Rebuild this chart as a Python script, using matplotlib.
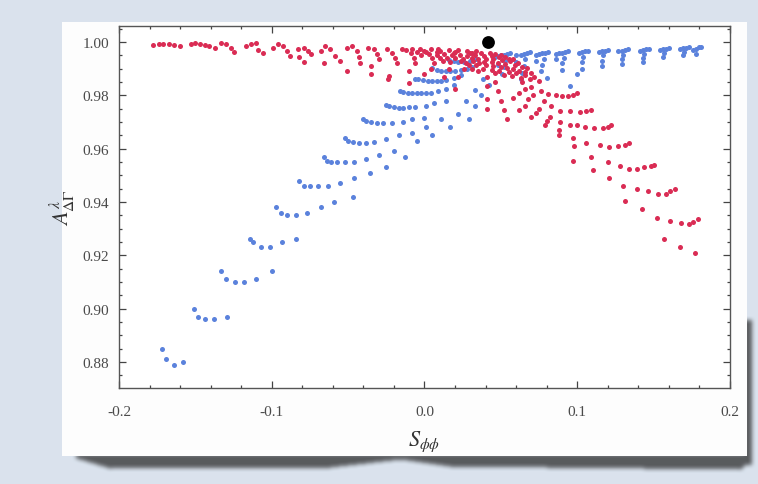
import numpy as np
import matplotlib.pyplot as plt
from matplotlib.ticker import MultipleLocator, FormatStrFormatter

plt.rcParams['mathtext.fontset'] = 'stix'

# blue scan: lower-left fan, rows from the bottom up
blue_fan = [
    (-0.172, 0.885), (-0.169, 0.881), (-0.164, 0.879), (-0.158, 0.880),
    (-0.151, 0.900), (-0.148, 0.897), (-0.144, 0.896), (-0.138, 0.896), (-0.129, 0.897),
    (-0.133, 0.914), (-0.130, 0.911), (-0.124, 0.910), (-0.118, 0.910), (-0.110, 0.911), (-0.100, 0.914),
    (-0.114, 0.926), (-0.112, 0.925), (-0.107, 0.923), (-0.101, 0.923), (-0.093, 0.925), (-0.084, 0.926),
    (-0.097, 0.938), (-0.094, 0.936), (-0.090, 0.935), (-0.084, 0.935), (-0.077, 0.936), (-0.068, 0.938),
    (-0.059, 0.940), (-0.047, 0.942),
    (-0.082, 0.948), (-0.079, 0.946), (-0.075, 0.946), (-0.070, 0.946), (-0.063, 0.946), (-0.055, 0.947),
    (-0.046, 0.949), (-0.036, 0.951), (-0.025, 0.953),
    (-0.066, 0.957), (-0.064, 0.9555), (-0.061, 0.955), (-0.057, 0.955), (-0.052, 0.955), (-0.046, 0.955),
    (-0.038, 0.956), (-0.030, 0.9575), (-0.020, 0.959), (-0.013, 0.957),
    (-0.052, 0.964), (-0.050, 0.963), (-0.047, 0.9625), (-0.043, 0.962), (-0.038, 0.962), (-0.033, 0.9625),
    (-0.025, 0.9635), (-0.017, 0.965), (-0.008, 0.966), (-0.005, 0.963),
    (-0.040, 0.971), (-0.038, 0.9703), (-0.035, 0.970), (-0.031, 0.9696), (-0.027, 0.9696), (-0.021, 0.9696),
    (-0.014, 0.970), (-0.008, 0.971), (0.000, 0.9715), (0.001, 0.968), (0.005, 0.965),
    (-0.025, 0.9763), (-0.023, 0.976), (-0.020, 0.9756), (-0.017, 0.9754), (-0.014, 0.9754), (-0.010, 0.9755),
    (-0.006, 0.9758), (0.001, 0.976), (0.006, 0.977), (0.014, 0.978), (0.011, 0.971), (0.017, 0.968),
    (-0.016, 0.9816), (-0.014, 0.9812), (-0.011, 0.981), (-0.008, 0.9808), (-0.005, 0.9808), (-0.002, 0.9808),
    (0.001, 0.9808), (0.004, 0.981), (0.009, 0.9817), (0.014, 0.9825), (0.019, 0.9838), (0.022, 0.973),
    (0.029, 0.971),
    (-0.006, 0.9863), (-0.004, 0.986), (-0.001, 0.9857), (0.002, 0.9855), (0.005, 0.9855), (0.008, 0.9855),
    (0.011, 0.9855), (0.014, 0.9857), (0.019, 0.9865), (0.024, 0.9875), (0.027, 0.978), (0.033, 0.976),
    (0.005, 0.9902), (0.008, 0.9896), (0.011, 0.9893), (0.014, 0.9891), (0.017, 0.9891), (0.020, 0.9891),
    (0.024, 0.9895), (0.028, 0.990), (0.031, 0.9908), (0.033, 0.982), (0.037, 0.980),
    (0.016, 0.9932), (0.019, 0.9927), (0.022, 0.9925), (0.026, 0.9925), (0.030, 0.9928), (0.034, 0.9935),
    (0.038, 0.986), (0.042, 0.984),
]

# blue scan: upper-right hooks
blue_top = [
    (0.046, 0.9945), (0.048, 0.9948), (0.050, 0.9950), (0.052, 0.9953), (0.054, 0.9955), (0.056, 0.9958),
    (0.053, 0.9930), (0.052, 0.9905), (0.051, 0.9880), (0.048, 0.9915),
    (0.060, 0.9950), (0.063, 0.9953), (0.065, 0.9956), (0.067, 0.9958), (0.069, 0.9961), (0.066, 0.9935),
    (0.065, 0.9910), (0.064, 0.9885), (0.063, 0.9860), (0.060, 0.9925),
    (0.073, 0.9952), (0.075, 0.9955), (0.077, 0.9958), (0.079, 0.9960), (0.081, 0.9963), (0.078, 0.9938),
    (0.077, 0.9915), (0.076, 0.9890), (0.080, 0.9865), (0.073, 0.9930),
    (0.086, 0.9954), (0.088, 0.9957), (0.090, 0.9960), (0.092, 0.9962), (0.094, 0.9965), (0.091, 0.9940),
    (0.090, 0.9920), (0.090, 0.9895), (0.095, 0.9835), (0.086, 0.9935),
    (0.101, 0.9960), (0.103, 0.9963), (0.105, 0.9965), (0.107, 0.9968), (0.104, 0.9945), (0.103, 0.9925),
    (0.103, 0.9900), (0.100, 0.9880),
    (0.114, 0.9962), (0.116, 0.9965), (0.118, 0.9967), (0.120, 0.9970), (0.117, 0.9950), (0.116, 0.9930),
    (0.116, 0.9910),
    (0.127, 0.9965), (0.129, 0.9968), (0.131, 0.9970), (0.133, 0.9973), (0.130, 0.9952), (0.129, 0.9935),
    (0.129, 0.9918),
    (0.141, 0.9967), (0.143, 0.9970), (0.145, 0.9972), (0.147, 0.9975), (0.144, 0.9955), (0.143, 0.9940),
    (0.143, 0.9925),
    (0.154, 0.9970), (0.156, 0.9973), (0.158, 0.9975), (0.160, 0.9978), (0.157, 0.9960), (0.156, 0.9945),
    (0.167, 0.9973), (0.169, 0.9976), (0.171, 0.9978), (0.173, 0.9981), (0.170, 0.9962), (0.169, 0.9950),
    (0.176, 0.9970), (0.178, 0.9975), (0.180, 0.9980), (0.181, 0.9982), (0.178, 0.9955),
]

# red scan: upper-left hooks, left to right
red_top = [
    (-0.178, 0.9988), (-0.174, 0.9992), (-0.171, 0.9993), (-0.167, 0.9991), (-0.164, 0.9988), (-0.160, 0.9985),
    (-0.153, 0.9994), (-0.150, 0.9996), (-0.147, 0.9993), (-0.144, 0.9990), (-0.141, 0.9985),
    (-0.137, 0.9979), (-0.133, 0.9998), (-0.130, 0.9991), (-0.127, 0.9979), (-0.1245, 0.9963),
    (-0.117, 0.9985), (-0.1135, 0.9991), (-0.110, 0.9998), (-0.109, 0.9970), (-0.106, 0.9960),
    (-0.099, 0.9979), (-0.096, 0.9991), (-0.0926, 0.9985), (-0.090, 0.9966), (-0.088, 0.9948),
    (-0.083, 0.9973), (-0.079, 0.9979), (-0.076, 0.9966), (-0.074, 0.9954), (-0.082, 0.9942), (-0.079, 0.9925),
    (-0.068, 0.9966), (-0.065, 0.9985), (-0.062, 0.9973), (-0.0585, 0.9948), (-0.055, 0.9929), (-0.066, 0.9920),
    (-0.051, 0.9979), (-0.0476, 0.9985), (-0.0443, 0.9966), (-0.043, 0.9942), (-0.042, 0.9923), (-0.051, 0.9890),
    (-0.037, 0.9979), (-0.033, 0.9973), (-0.031, 0.9954), (-0.030, 0.9935), (-0.035, 0.9910), (-0.035, 0.9879),
    (-0.0245, 0.9973), (-0.021, 0.9960), (-0.019, 0.9940), (-0.018, 0.9920), (-0.023, 0.9873), (-0.024, 0.9860),
    (-0.012, 0.9970), (-0.009, 0.9958), (-0.007, 0.9940), (-0.006, 0.9920), (-0.010, 0.9890), (-0.010, 0.9848),
    (0.000, 0.9968), (0.003, 0.9955), (0.005, 0.9940), (0.006, 0.9920), (0.004, 0.9900), (0.000, 0.9880),
    (0.010, 0.9965), (0.013, 0.9955), (0.015, 0.9940), (0.017, 0.9925), (0.016, 0.9900), (0.013, 0.9870),
    (0.020, 0.9962), (0.023, 0.9950), (0.025, 0.9938), (0.027, 0.9920), (0.026, 0.9900), (0.022, 0.9870),
    (0.020, 0.9823),
    (0.030, 0.9960), (0.033, 0.9950), (0.035, 0.9935), (0.036, 0.9920), (0.035, 0.9890),
]

# red scan: dense core around the reference point
red_core = [
    (-0.015, 0.9972), (-0.008, 0.9972), (-0.003, 0.9972), (0.004, 0.9972), (0.009, 0.9972), (0.016, 0.9970),
    (0.022, 0.9970), (0.028, 0.9968), (0.034, 0.9966),
    (-0.005, 0.9962), (0.001, 0.9962), (0.008, 0.9962), (0.019, 0.9960), (0.031, 0.9958), (0.037, 0.9958),
    (0.043, 0.9957), (0.046, 0.9955), (0.050, 0.9950), (0.053, 0.9945),
    (-0.002, 0.9950), (0.008, 0.9950), (0.018, 0.9950), (0.028, 0.9948), (0.039, 0.9948), (0.044, 0.9946),
    (0.049, 0.9944), (0.055, 0.9938), (0.058, 0.9935),
    (0.010, 0.9940), (0.020, 0.9940), (0.031, 0.9940), (0.040, 0.9938), (0.045, 0.9936), (0.051, 0.9934),
    (0.056, 0.9928), (0.061, 0.9922),
    (0.012, 0.9928), (0.024, 0.9928), (0.032, 0.9927), (0.039, 0.9926), (0.044, 0.9924), (0.048, 0.9922),
    (0.053, 0.9918), (0.059, 0.9912), (0.064, 0.9906), (0.067, 0.9902),
    (0.029, 0.9915), (0.034, 0.9914), (0.040, 0.9912), (0.045, 0.9910), (0.050, 0.9908), (0.054, 0.9904),
    (0.058, 0.9898), (0.062, 0.9893), (0.066, 0.9888), (0.070, 0.9884),
    (0.031, 0.9900), (0.038, 0.9898), (0.044, 0.9896), (0.049, 0.9893), (0.055, 0.9888), (0.060, 0.9882),
    (0.066, 0.9876), (0.072, 0.9870),
    (0.046, 0.9882), (0.052, 0.9878), (0.057, 0.9872), (0.063, 0.9866), (0.069, 0.9860), (0.075, 0.9852),
]

# red scan: lower-right fan, rows from the top down
red_fan = [
    (0.041, 0.9870), (0.041, 0.9835), (0.041, 0.9785), (0.041, 0.9748),
    (0.046, 0.9850), (0.048, 0.9815), (0.050, 0.9780), (0.052, 0.9745), (0.054, 0.9710),
    (0.064, 0.9850), (0.070, 0.9830), (0.076, 0.9816), (0.081, 0.9804), (0.086, 0.9800),
    (0.090, 0.9798), (0.094, 0.9798), (0.097, 0.9803), (0.100, 0.9810),
    (0.066, 0.9825), (0.071, 0.9800), (0.078, 0.9780), (0.083, 0.9760), (0.089, 0.9742),
    (0.095, 0.9742), (0.102, 0.9738), (0.106, 0.9740), (0.109, 0.9745),
    (0.062, 0.9810), (0.068, 0.9785), (0.075, 0.9750), (0.082, 0.9720), (0.089, 0.9700), (0.095, 0.9690),
    (0.100, 0.9688), (0.105, 0.9682), (0.111, 0.9678), (0.117, 0.9679), (0.120, 0.9683), (0.122, 0.9688),
    (0.058, 0.9790), (0.066, 0.9760), (0.073, 0.9735), (0.080, 0.9705), (0.088, 0.9670), (0.097, 0.9640),
    (0.106, 0.9620), (0.115, 0.9613), (0.1205, 0.9608), (0.127, 0.9610), (0.131, 0.9615), (0.134, 0.9620),
    (0.062, 0.9745), (0.070, 0.9720), (0.079, 0.9690), (0.088, 0.9650), (0.098, 0.9610), (0.109, 0.9570),
    (0.120, 0.9550), (0.128, 0.9536), (0.134, 0.9523), (0.139, 0.9523), (0.144, 0.9530), (0.148, 0.9535),
    (0.150, 0.9540),
    (0.097, 0.9554), (0.110, 0.9520), (0.121, 0.9490), (0.130, 0.9460), (0.139, 0.9450), (0.146, 0.9440),
    (0.153, 0.9430), (0.158, 0.9430), (0.161, 0.9440), (0.164, 0.9450),
    (0.131, 0.9405), (0.1425, 0.9374), (0.152, 0.9340), (0.161, 0.9330), (0.168, 0.9320), (0.173, 0.9317),
    (0.176, 0.9325), (0.179, 0.9336),
    (0.157, 0.9260), (0.167, 0.9230), (0.177, 0.9210),
]

# reference point
ref_point = (0.0414, 1.000)

x_ticks = [-0.2, -0.1, 0.0, 0.1, 0.2]
y_ticks = [0.88, 0.90, 0.92, 0.94, 0.96, 0.98, 1.00]

W, H = 758, 485
fig = plt.figure(figsize=(W / 100, H / 100), dpi=100)

# backdrop: pale paper, white card and its drop shadow
yy, xx = np.mgrid[0:H, 0:W]
img = np.empty((H, W, 3))
img[:] = [0.855, 0.890, 0.933]

shadow = np.zeros((H, W))
thick = np.interp(xx[0], [70, 110, 330, 400, 450, 740, 750], [2, 14, 13, 5, 12, 15, 6])
shadow[(yy >= 455) & (yy <= 455 + thick[None, :]) & (xx > 75) & (xx < 752)] = 1.0
shadow[(yy > 320) & (yy < 466) & (xx >= 744) & (xx <= 751)] = 1.0
k = np.ones(5) / 5
for _ in range(2):
    shadow = np.apply_along_axis(lambda r: np.convolve(r, k, mode='same'), 0, shadow)
    shadow = np.apply_along_axis(lambda r: np.convolve(r, k, mode='same'), 1, shadow)
img = img * (1 - 0.75 * shadow[..., None]) + 0.18 * 0.75 * shadow[..., None]

card = (xx >= 62) & (xx <= 746) & (yy >= 23) & (yy <= 456)
img[card] = [0.995, 0.995, 0.995]

bg = fig.add_axes([0, 0, 1, 1])
bg.imshow(img, aspect='auto', interpolation='bilinear')
bg.axis('off')

# scatter panel
left, right, top, bottom = 119, 730, 27, 389
ax = fig.add_axes([left / W, 1 - bottom / H, (right - left) / W, (bottom - top) / H])
ax.set_facecolor('white')

blue, red = '#5b82dc', '#da2c54'
for pts, col in [(blue_fan, blue), (blue_top, blue), (red_top, red), (red_core, red), (red_fan, red)]:
    px, py = zip(*pts)
    ax.scatter(px, py, s=13, color=col, linewidths=0, zorder=3)
ax.scatter([ref_point[0]], [ref_point[1]], s=85, color='black', linewidths=0, zorder=4)

ax.set_xlim(-0.2, 0.2)
ax.set_ylim(0.8703, 1.006)
ax.set_xticks(x_ticks)
ax.set_yticks(y_ticks)
ax.xaxis.set_minor_locator(MultipleLocator(0.02))
ax.yaxis.set_minor_locator(MultipleLocator(0.005))
ax.xaxis.set_major_formatter(FormatStrFormatter('%.1f'))
ax.yaxis.set_major_formatter(FormatStrFormatter('%.2f'))
ax.tick_params(which='both', direction='in', top=True, right=True, color='#444444', width=0.9)
ax.tick_params(which='major', length=5)
ax.tick_params(which='minor', length=2.5)
ax.tick_params(axis='x', pad=12)
ax.tick_params(axis='y', pad=7)
for lab in ax.get_xticklabels() + ax.get_yticklabels():
    lab.set_fontfamily('Liberation Serif')
    lab.set_fontsize(11)
    lab.set_color('#4a4a4a')
for sp in ax.spines.values():
    sp.set_color('#555555')
    sp.set_linewidth(1.0)

ax.set_xlabel(r'$S_{\phi\phi}$', fontsize=16, color='#333333', labelpad=8)
ax.set_ylabel(r'$A^{\lambda}_{\Delta\Gamma}$', fontsize=16, color='#333333', labelpad=4)

fig.savefig('out.png', dpi=100)
